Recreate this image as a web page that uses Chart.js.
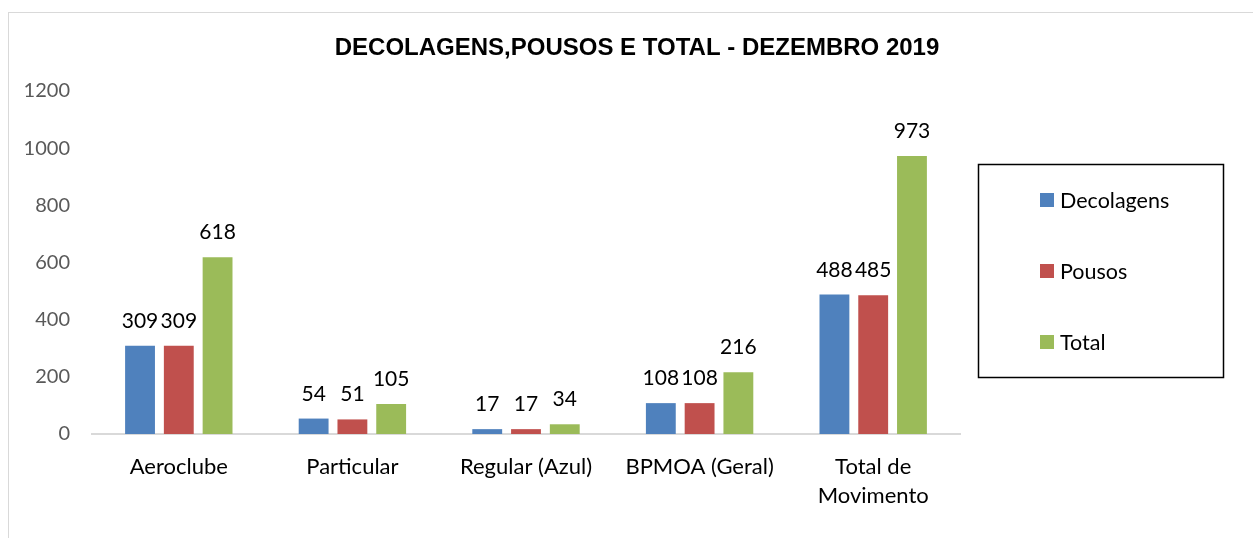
<!DOCTYPE html>
<html>
<head>
<meta charset="utf-8">
<script src="https://cdn.jsdelivr.net/npm/chart.js@4.4.1/dist/chart.umd.min.js"></script>
<style>
  html, body { margin: 0; padding: 0; background: #fff; overflow: hidden; width: 1253px; height: 538px; }
  #frame { position: absolute; left: 8px; top: 12px; width: 1400px; height: 700px; border: 1px solid #d9d9d9; box-sizing: border-box; }
  #wrap { position: absolute; left: 0; top: 0; width: 1253px; height: 538px; }
</style>
</head>
<body>
<div id="frame"></div>
<div id="wrap"><canvas id="c" width="1253" height="538"></canvas></div>
<script>
const categories = ["Aeroclube", "Particular", "Regular (Azul)", "BPMOA (Geral)", ["Total de", "Movimento"]];
const decolagens = [309, 54, 17, 108, 488];
const pousos = [309, 51, 17, 108, 485];
const total = [618, 105, 34, 216, 973];
const seriesNames = ["Decolagens", "Pousos", "Total"];
const seriesColors = ["#4F81BD", "#C0504D", "#9BBB59"];
const yTicks = [0, 200, 400, 600, 800, 1000, 1200];
const chartTitle = "DECOLAGENS,POUSOS E TOTAL - DEZEMBRO 2019";

const FONT = "Lato, 'Open Sans', sans-serif";

const extras = {
  id: 'extras',
  afterDatasetsDraw(chart) {
    const ctx = chart.ctx;
    ctx.save();
    // data labels
    ctx.fillStyle = '#000';
    ctx.font = '21px ' + FONT;
    ctx.textAlign = 'center';
    ctx.textBaseline = 'alphabetic';
    chart.data.datasets.forEach((ds, i) => {
      const meta = chart.getDatasetMeta(i);
      meta.data.forEach((bar, j) => {
        ctx.fillText(String(ds.data[j]), bar.x, bar.y - 18);
      });
    });
    // title
    ctx.font = 'bold 24px "Liberation Sans", Arial, sans-serif';
    ctx.fillText(chartTitle, 637, 55);
    // legend
    ctx.lineWidth = 1.5;
    ctx.strokeStyle = '#000';
    ctx.strokeRect(978.5, 164.5, 245, 213);
    const ys = [200, 271, 342];
    ctx.textAlign = 'left';
    ctx.textBaseline = 'middle';
    ctx.font = '21.5px ' + FONT;
    chart.data.datasets.forEach((ds, i) => {
      ctx.fillStyle = ds.backgroundColor;
      ctx.fillRect(1040, ys[i] - 7, 14, 14);
      ctx.fillStyle = '#000';
      ctx.fillText(ds.label, 1060, ys[i] + 1);
    });
    ctx.restore();
  }
};

new Chart(document.getElementById('c'), {
  type: 'bar',
  data: {
    labels: categories,
    datasets: [
      { label: seriesNames[0], data: decolagens, backgroundColor: seriesColors[0] },
      { label: seriesNames[1], data: pousos, backgroundColor: seriesColors[1] },
      { label: seriesNames[2], data: total, backgroundColor: seriesColors[2] }
    ]
  },
  options: {
    responsive: false,
    animation: false,
    devicePixelRatio: 1,
    layout: { padding: { top: 91, right: 293, left: 0, bottom: 0 } },
    datasets: { bar: { barPercentage: 0.77, categoryPercentage: 0.67 } },
    plugins: {
      legend: { display: false },
      title: { display: false },
      tooltip: { enabled: false }
    },
    scales: {
      x: {
        grid: { display: false, drawTicks: false },
        border: { display: true, color: '#d9d9d9', width: 2 },
        ticks: { color: '#000', font: { family: FONT, size: 22, lineHeight: 1.3 }, padding: 19, maxRotation: 0, autoSkip: false },
        afterFit(s) { s.height = 104; }
      },
      y: {
        min: 0, max: 1200,
        afterBuildTicks(s) { s.ticks = yTicks.map(v => ({ value: v })); },
        grid: { display: false, drawTicks: false },
        border: { display: false },
        ticks: { color: '#595959', font: { family: FONT, size: 20 }, padding: 22, callback: v => String(v) },
        afterFit(s) { s.width = 92; }
      }
    }
  },
  plugins: [extras]
});
</script>
</body>
</html>
